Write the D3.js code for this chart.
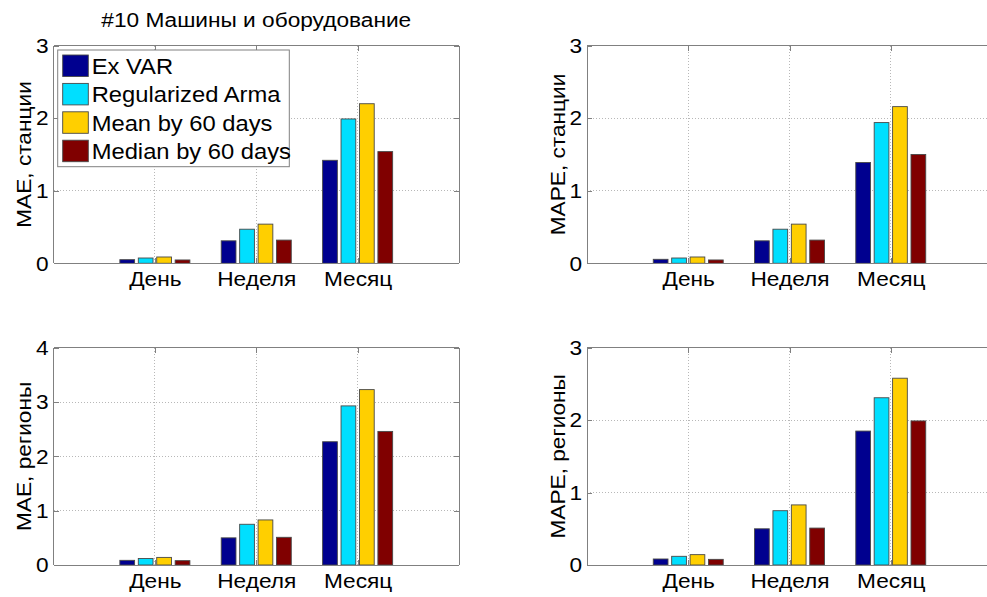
<!DOCTYPE html>
<html>
<head>
<meta charset="utf-8">
<script src="https://cdn.jsdelivr.net/npm/d3@7"></script>
<style>
  html, body { margin: 0; padding: 0; background: #fff; }
  svg { display: block; }
  text { font-family: "Liberation Sans", Arial, Helvetica, sans-serif; fill: #000; }
  /* slightly widened glyphs, anchored where each label is attached */
  text.wide { transform-box: fill-box; transform: scaleX(1.08); }
  text.wide.mid { transform-origin: center; }
  text.wide.end { transform-origin: right; }
  text.wide.start { transform-origin: left; }
</style>
</head>
<body>
<svg id="fig" width="987" height="597"></svg>
<script>
// Forecast horizons shown on the x axis
const categories = ["День", "Неделя", "Месяц"];

// Forecasting methods (legend order)
const seriesNames = ["Ex VAR", "Regularized Arma", "Mean by 60 days", "Median by 60 days"];
const seriesColors = ["#00008f", "#00dfff", "#ffcf00", "#800000"];

// Error values: one row per method, one column per horizon
const maeStations = [
  [0.05, 0.31, 1.42],
  [0.073, 0.47, 1.99],
  [0.087, 0.54, 2.20],
  [0.046, 0.32, 1.54]
];
const mapeStations = [
  [0.055, 0.31, 1.39],
  [0.073, 0.47, 1.94],
  [0.087, 0.54, 2.16],
  [0.046, 0.32, 1.50]
];
const maeRegions = [
  [0.086, 0.50, 2.27],
  [0.12, 0.75, 2.93],
  [0.14, 0.83, 3.23],
  [0.08, 0.51, 2.46]
];
const mapeRegions = [
  [0.083, 0.50, 1.85],
  [0.12, 0.75, 2.31],
  [0.143, 0.83, 2.58],
  [0.078, 0.51, 1.99]
];

// Axis ticks
const ticks3 = [0, 1, 2, 3];
const ticks4 = [0, 1, 2, 3, 4];

const chartTitle = "#10 Машины и оборудование";

const panels = [
  { values: maeStations,  ylabel: "MAE, станции",  ymax: 3, ticks: ticks3, box: [53.5, 45.7, 459, 263.3], title: chartTitle, legend: true },
  { values: mapeStations, ylabel: "MAPE, станции", ymax: 3, ticks: ticks3, box: [587, 45.7, 992, 263.3] },
  { values: maeRegions,   ylabel: "MAE, регионы",  ymax: 4, ticks: ticks4, box: [53.5, 347.8, 459, 565] },
  { values: mapeRegions,  ylabel: "MAPE, регионы", ymax: 3, ticks: ticks3, box: [587, 347.8, 992, 565] }
];

const svg = d3.select("#fig");
const FONT = 21;

// Grouped-bar geometry (in category units)
const nSeries = seriesNames.length;
const groupWidth = Math.min(0.8, nSeries / (nSeries + 1.5));
const pitch = groupWidth / nSeries;
const barW = pitch * 0.8;

panels.forEach(p => {
  const [x0, y0, x1, y1] = p.box;
  const g = svg.append("g");
  const x = d3.scaleLinear().domain([0, categories.length + 1]).range([x0, x1]);
  const y = d3.scaleLinear().domain([0, p.ymax]).range([y1, y0]);

  // dotted grid
  const grid = g.append("g").attr("stroke", "#b8b8b8").attr("stroke-width", 1)
    .attr("stroke-dasharray", "1,2").attr("shape-rendering", "crispEdges");
  categories.forEach((c, i) => {
    grid.append("line").attr("x1", x(i + 1)).attr("x2", x(i + 1)).attr("y1", y0).attr("y2", y1);
  });
  p.ticks.filter(t => t > 0 && t < p.ymax).forEach(t => {
    grid.append("line").attr("x1", x0).attr("x2", x1).attr("y1", y(t)).attr("y2", y(t));
  });

  // bars
  p.values.forEach((row, si) => {
    g.append("g").selectAll("rect").data(row).join("rect")
      .attr("x", (v, ci) => x(ci + 1 + (si - (nSeries - 1) / 2) * pitch - barW / 2))
      .attr("width", x(barW) - x(0))
      .attr("y", v => y(v))
      .attr("height", v => y(0) - y(v))
      .attr("fill", seriesColors[si])
      .attr("stroke", "#484848")
      .attr("stroke-width", 0.9);
  });

  // axes box with inward ticks
  const axisColor = "#808080";
  const yAxisL = d3.axisLeft(y).tickValues(p.ticks).tickSize(-5).tickPadding(5).tickFormat(d3.format("d"));
  const yAxisR = d3.axisRight(y).tickValues(p.ticks).tickSize(-5).tickFormat("");
  const xAxisB = d3.axisBottom(x).tickValues(categories.map((c, i) => i + 1)).tickSize(-5).tickPadding(8)
    .tickFormat((d, i) => categories[i]);
  const xAxisT = d3.axisTop(x).tickValues(categories.map((c, i) => i + 1)).tickSize(-5).tickFormat("");

  const styleAxis = (sel, cls) => {
    sel.selectAll("path, line").attr("stroke", axisColor).attr("shape-rendering", "crispEdges");
    sel.selectAll("text").attr("font-size", FONT).attr("font-family", null).attr("fill", "#000")
      .attr("class", cls);
    sel.attr("font-family", null).attr("font-size", null);
  };
  g.append("g").attr("transform", `translate(${x0},0)`).call(yAxisL).call(styleAxis, "wide end")
    .call(s => s.select(".domain").attr("d", `M0,${y0}V${y1}`));
  g.append("g").attr("transform", `translate(${x1},0)`).call(yAxisR).call(styleAxis, "")
    .call(s => s.select(".domain").attr("d", `M0,${y0}V${y1}`));
  g.append("g").attr("transform", `translate(0,${y1})`).call(xAxisB).call(styleAxis, "wide mid")
    .call(s => s.select(".domain").attr("d", `M${x0},0H${x1}`));
  g.append("g").attr("transform", `translate(0,${y0})`).call(xAxisT).call(styleAxis, "")
    .call(s => s.select(".domain").attr("d", `M${x0},0H${x1}`));

  // y label
  g.append("g")
    .attr("transform", `translate(${x0 - 22.5},${(y0 + y1) / 2}) rotate(-90)`)
    .append("text")
    .attr("class", "wide mid")
    .attr("text-anchor", "middle")
    .attr("font-size", FONT)
    .text(p.ylabel);

  if (p.title) {
    g.append("text")
      .attr("class", "wide mid")
      .attr("x", (x0 + x1) / 2).attr("y", 27)
      .attr("text-anchor", "middle")
      .attr("font-size", FONT)
      .text(p.title);
  }

  if (p.legend) {
    const lg = g.append("g").attr("transform", `translate(57.7,50)`);
    lg.append("rect").attr("width", 231.6).attr("height", 116.7)
      .attr("fill", "#fff").attr("stroke", axisColor).attr("stroke-width", 1);
    seriesNames.forEach((name, i) => {
      const row = lg.append("g").attr("transform", `translate(0,${5 + i * 28.4})`);
      row.append("rect").attr("x", 5).attr("y", 0).attr("width", 25.6).attr("height", 21.5)
        .attr("fill", seriesColors[i]).attr("stroke", "#484848").attr("stroke-width", 0.9);
      row.append("text").attr("class", "wide start")
        .attr("x", 34).attr("y", 19).attr("font-size", 22).text(name);
    });
  }
});
</script>
</body>
</html>
